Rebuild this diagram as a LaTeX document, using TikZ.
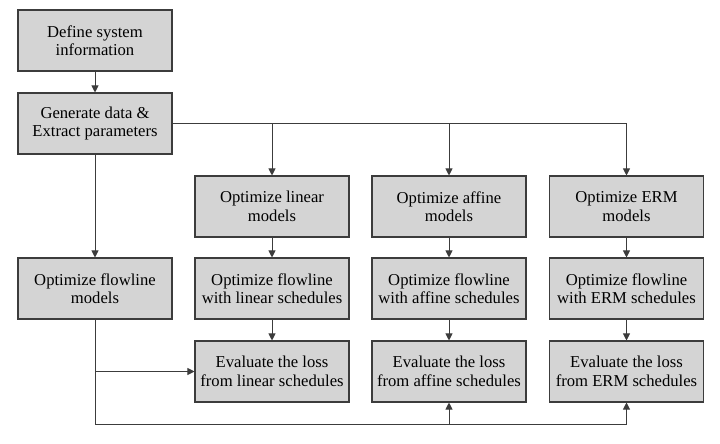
\documentclass[tikz,border=0pt]{standalone}
\usepackage{fontspec}
\setmainfont{Liberation Serif}
\usetikzlibrary{arrows.meta}
\definecolor{boxfill}{HTML}{D4D4D4}
\definecolor{boxline}{HTML}{3C3C3C}

\begin{document}
\begin{tikzpicture}[x=0.03cm,y=-0.03cm,
	box/.style={draw=boxline,fill=boxfill,line width=0.9pt,minimum width=4.62cm,minimum height=1.83cm,inner sep=0,align=center,font=\fontsize{14.2}{15.8}\selectfont},
	link/.style={draw=boxline,line width=0.8pt},
	arr/.style={link,-{Triangle[length=6pt,width=6pt]}}]
	\useasboundingbox (0,0) rectangle (720,443);
	\node[box] (def) at (95,40.5) {Define system\\information};
	\node[box] (gen) at (95,123.5) {Generate data \&\\Extract parameters};
	\node[box] (flow) at (95,288.5) {Optimize flowline\\models};
	\node[box] (lin) at (272,206.5) {Optimize linear\\models};
	\node[box] (aff) at (449,206.5) {Optimize affine\\models};
	\node[box] (erm) at (626.5,206.5) {Optimize ERM\\models};
	\node[box] (linflow) at (272,288.5) {Optimize flowline\\with linear schedules};
	\node[box] (affflow) at (449,288.5) {Optimize flowline\\with affine schedules};
	\node[box] (ermflow) at (626.5,288.5) {Optimize flowline\\with ERM schedules};
	\node[box] (lineval) at (272,371.5) {Evaluate the loss\\from linear schedules};
	\node[box] (affeval) at (449,371.5) {Evaluate the loss\\from affine schedules};
	\node[box] (ermeval) at (626.5,371.5) {Evaluate the loss\\from ERM schedules};
	\coordinate (split) at (95,371.5);
	\coordinate (corner) at (95,424);
	\draw[arr] (def) -- (gen);
	\draw[arr] (gen) -- (flow);
	\draw[arr] (gen.east) -- (erm.north |- gen.east) -- (erm);
	\draw[arr] (lin.north |- gen.east) -- (lin);
	\draw[arr] (aff.north |- gen.east) -- (aff);
	\draw[arr] (lin) -- (linflow);
	\draw[arr] (aff) -- (affflow);
	\draw[arr] (erm) -- (ermflow);
	\draw[arr] (linflow) -- (lineval);
	\draw[arr] (affflow) -- (affeval);
	\draw[arr] (ermflow) -- (ermeval);
	\draw[arr] (flow) -- (corner) -- (ermeval.south |- corner) -- (ermeval);
	\draw[arr] (affeval.south |- corner) -- (affeval);
	\draw[arr] (split) -- (lineval);
\end{tikzpicture}
\end{document}
